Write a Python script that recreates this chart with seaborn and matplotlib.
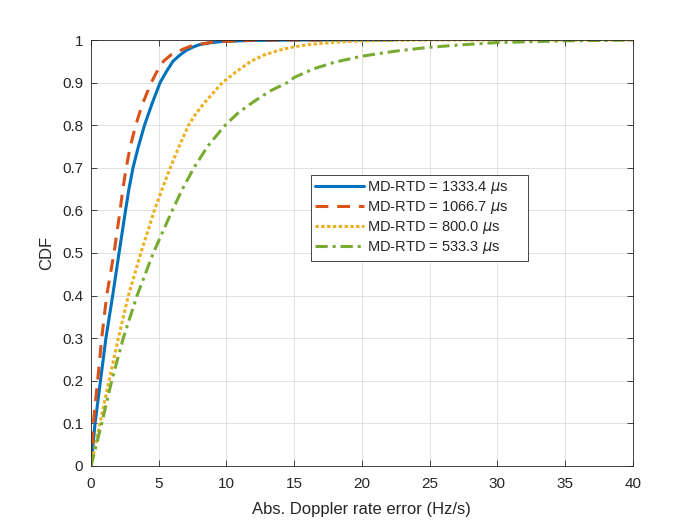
import numpy as np
import pandas as pd
import seaborn as sns
import matplotlib.pyplot as plt

# CDF curves (x in Hz/s, y = CDF)
x_1333 = [0, 0.3, 0.7, 1.1, 1.6, 2.07, 2.55, 2.8, 3.1, 3.5, 3.95, 4.5, 5.1, 5.55, 6.05, 6.5, 7.0,
          7.5, 8.0, 8.7, 9.5, 10.5, 12.0, 15.0, 22.3]
y_1333 = [0, 0.1, 0.2, 0.3, 0.4, 0.5, 0.6, 0.65, 0.7, 0.75, 0.8, 0.85, 0.9, 0.925, 0.95, 0.963, 0.975,
          0.983, 0.989, 0.993, 0.996, 0.9975, 0.999, 1.0, 1.0]

x_1067 = [0, 0.17, 0.49, 0.79, 1.16, 1.7, 2.15, 2.35, 2.6, 2.9, 3.3, 3.8, 4.45, 4.85, 5.35, 5.9,
          6.9, 7.4, 8.0, 9.0, 10.0, 11.0, 12.5, 17.6]
y_1067 = [0, 0.1, 0.2, 0.3, 0.4, 0.5, 0.6, 0.65, 0.7, 0.75, 0.8, 0.85, 0.9, 0.925, 0.95, 0.965,
          0.98, 0.986, 0.99, 0.995, 0.997, 0.9985, 1.0, 1.0]

x_800 = [0, 0.66, 1.33, 2.02, 2.76, 3.68, 4.68, 5.25, 5.85, 6.5, 7.2, 7.7, 8.3, 9.0, 9.7, 10.7,
         11.8, 12.8, 14.0, 15.0, 16.0, 18.0, 20.0, 22.0, 25.0, 40.0]
y_800 = [0, 0.1, 0.2, 0.3, 0.4, 0.5, 0.6, 0.65, 0.7, 0.75, 0.8, 0.825, 0.85, 0.875, 0.9, 0.925,
         0.95, 0.965, 0.977, 0.984, 0.989, 0.995, 0.998, 0.999, 1.0, 1.0]

x_533 = [0, 0.79, 1.53, 2.38, 3.4, 4.6, 6.0, 6.75, 7.6, 8.6, 9.9, 10.9, 12.0, 13.2, 14.5, 15.0,
         16.4, 18.0, 20.0, 22.5, 25.0, 27.5, 30.0, 35.0, 40.0]
y_533 = [0, 0.1, 0.2, 0.3, 0.4, 0.5, 0.6, 0.65, 0.7, 0.75, 0.8, 0.83, 0.855, 0.88, 0.9, 0.912,
         0.932, 0.948, 0.962, 0.974, 0.983, 0.989, 0.994, 0.998, 1.0]

labels = ['MD-RTD = 1333.4 $\\mu$s', 'MD-RTD = 1066.7 $\\mu$s',
          'MD-RTD = 800.0 $\\mu$s', 'MD-RTD = 533.3 $\\mu$s']
colors = ['#0072BD', '#D95319', '#EDB120', '#77AC30']
styles = ['-', (0, (4.2, 2.9)), (0, (1.1, 0.8)), (0, (4.0, 1.6, 1.0, 1.6))]

sns.set_style("ticks")
plt.rcParams['font.family'] = ['Liberation Sans', 'DejaVu Sans']
plt.rcParams['mathtext.fontset'] = 'dejavusans'

fig = plt.figure(figsize=(7, 5.25), dpi=100)
ax = fig.add_axes([0.13, 0.1124, 0.774, 0.8114])

series = [(x_1333, y_1333), (x_1067, y_1067), (x_800, y_800), (x_533, y_533)]
for (xs, ys), lab, c, ls in zip(series, labels, colors, styles):
    d = pd.DataFrame({'x': xs, 'y': ys})
    sns.lineplot(data=d, x='x', y='y', ax=ax, color=c, linestyle=ls,
                 linewidth=2.2, label=lab, estimator=None, sort=False)

ax.set_xlim(0, 40)
ax.set_ylim(0, 1)
ax.set_xticks(np.arange(0, 41, 5))
ax.set_yticks(np.round(np.arange(0, 1.01, 0.1), 1))
ax.set_yticklabels(['0', '0.1', '0.2', '0.3', '0.4', '0.5', '0.6', '0.7', '0.8', '0.9', '1'])
ax.grid(True, color='#dcdcdc', linewidth=0.6)
ax.tick_params(direction='in', top=True, right=True, labelsize=11, length=4,
               width=0.6, colors='#262626')
ax.tick_params(axis='x', pad=8)
ax.tick_params(axis='y', pad=5.5)
for sp in ax.spines.values():
    sp.set_visible(True)
    sp.set_linewidth(0.6)
    sp.set_color('#262626')

ax.set_xlabel('Abs. Doppler rate error (Hz/s)', fontsize=12, color='#262626', labelpad=8)
ax.set_ylabel('CDF', fontsize=12, color='#262626', labelpad=6)

leg = ax.legend(loc='upper left', bbox_to_anchor=(0.406, 0.482, 0.4, 0.201), mode='expand',
                fontsize=10.5, handlelength=3.35, fancybox=False, framealpha=1,
                edgecolor='#262626', borderpad=0.3, labelspacing=0.2, handletextpad=0.2,
                borderaxespad=0)
leg.get_frame().set_linewidth(0.6)

fig.savefig('out.png', dpi=100)
